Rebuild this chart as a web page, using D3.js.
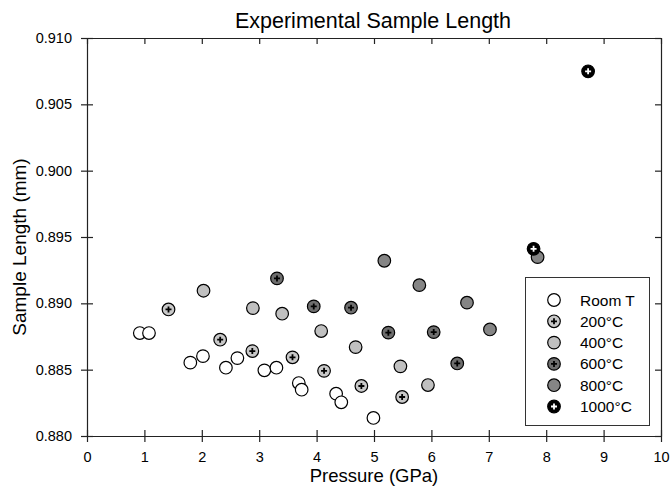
<!DOCTYPE html>
<html>
<head>
<meta charset="utf-8">
<script src="https://cdn.jsdelivr.net/npm/d3@7"></script>
<style>
  body { margin: 0; background: #fff; }
  text { font-family: "Liberation Sans", Arial, sans-serif; }
</style>
</head>
<body>
<div id="chart"></div>
<script>
// Data (pressure in GPa, sample length in mm)
var seriesNames = ["Room T", "200°C", "400°C", "600°C", "800°C", "1000°C"];

var roomX = [0.92, 1.08, 1.80, 2.02, 2.42, 2.62, 3.09, 3.30, 3.69, 3.74, 4.34, 4.43, 4.99];
var roomY = [0.88776, 0.88776, 0.88553, 0.88602, 0.88515, 0.88587, 0.88495, 0.88515, 0.88399, 0.88349, 0.88319, 0.88254, 0.88136];

var t200X = [1.42, 2.32, 2.88, 3.58, 4.13, 4.78, 5.49];
var t200Y = [0.88954, 0.88726, 0.88640, 0.88593, 0.88491, 0.88377, 0.88294];

var t400X = [2.03, 2.89, 3.40, 4.08, 4.68, 5.46, 5.94];
var t400Y = [0.89095, 0.88964, 0.88922, 0.88791, 0.88670, 0.88525, 0.88384];

var t600X = [3.31, 3.95, 4.60, 5.25, 6.04, 6.45];
var t600Y = [0.89188, 0.88977, 0.88967, 0.88779, 0.88783, 0.88547];

var t800X = [5.18, 5.79, 6.62, 7.02, 7.85];
var t800Y = [0.89321, 0.89137, 0.89005, 0.88803, 0.89348];

var t1000X = [7.78, 8.73];
var t1000Y = [0.89411, 0.90749];

var xTicks = [0, 1, 2, 3, 4, 5, 6, 7, 8, 9, 10];
var yTicks = [0.880, 0.885, 0.890, 0.895, 0.900, 0.905, 0.910];

// marker styles per series
var styles = [
  { fill: "#ffffff", cross: null },
  { fill: "#c8c8c8", cross: "#000" },
  { fill: "#c0c0c0", cross: null },
  { fill: "#6e6e6e", cross: "#000" },
  { fill: "#858585", cross: null },
  { fill: "#000000", cross: "#fff" }
];

var series = [
  [roomX, roomY], [t200X, t200Y], [t400X, t400Y],
  [t600X, t600Y], [t800X, t800Y], [t1000X, t1000Y]
];

var width = 670, height = 486;
var margin = { left: 87, right: 9, top: 38, bottom: 50 };

var svg = d3.select("#chart").append("svg")
  .attr("width", width)
  .attr("height", height);

var x = d3.scaleLinear().domain([0, 10]).range([margin.left, width - margin.right]);
var y = d3.scaleLinear().domain([0.880, 0.910]).range([height - margin.bottom, margin.top]);

// axes - ticks crossing on bottom/left, inside on top/right
var bottom = svg.append("g")
  .attr("transform", "translate(0," + y.range()[0] + ")")
  .call(d3.axisBottom(x).tickValues(xTicks).tickSize(6).tickSizeOuter(0).tickPadding(10).tickFormat(d3.format("d")));
bottom.selectAll(".tick line").attr("y1", -6);

var left = svg.append("g")
  .attr("transform", "translate(" + x.range()[0] + ",0)")
  .call(d3.axisLeft(y).tickValues(yTicks).tickSize(6).tickSizeOuter(0).tickPadding(9).tickFormat(d3.format(".3f")));
left.selectAll(".tick line").attr("x1", 6).attr("x2", -6);

svg.append("g")
  .attr("transform", "translate(0," + y.range()[1] + ")")
  .call(d3.axisBottom(x).tickValues(xTicks).tickSize(6).tickSizeOuter(0).tickFormat(""));

svg.append("g")
  .attr("transform", "translate(" + x.range()[1] + ",0)")
  .call(d3.axisLeft(y).tickValues(yTicks).tickSize(6).tickSizeOuter(0).tickFormat(""));

svg.selectAll(".domain, .tick line").attr("stroke", "#222").attr("stroke-width", 1.2);
svg.selectAll(".tick text").attr("font-size", 14.5).attr("fill", "#000")
  .attr("font-family", "Liberation Sans, Arial, sans-serif");

// markers
function drawMarker(g, cx, cy, st) {
  g.append("circle")
    .attr("cx", cx).attr("cy", cy).attr("r", 6.3)
    .attr("fill", st.fill)
    .attr("stroke", "#000")
    .attr("stroke-width", 1.2);
  if (st.cross) {
    g.append("path")
      .attr("d", "M" + (cx - 3) + "," + cy + "h6M" + cx + "," + (cy - 3) + "v6")
      .attr("stroke", st.cross)
      .attr("stroke-width", 1.8);
  }
}

var pts = svg.append("g");
series.forEach(function(s, i) {
  for (var j = 0; j < s[0].length; j++) {
    drawMarker(pts, x(s[0][j]), y(s[1][j]), styles[i]);
  }
});

// legend
var lg = svg.append("g");
lg.append("rect")
  .attr("x", 525.5).attr("y", 277.5)
  .attr("width", 124).attr("height", 148)
  .attr("fill", "#fff").attr("stroke", "#333").attr("stroke-width", 1);
seriesNames.forEach(function(name, i) {
  var ry = 300 + i * 21.3;
  drawMarker(lg, 554, ry, styles[i]);
  lg.append("text")
    .attr("x", 580).attr("y", ry + 5.5)
    .attr("font-size", 15.5)
    .text(name);
});

// titles
svg.append("text")
  .attr("x", 373).attr("y", 28)
  .attr("text-anchor", "middle")
  .attr("font-size", 21.5)
  .text("Experimental Sample Length");

svg.append("text")
  .attr("x", 374).attr("y", 482)
  .attr("text-anchor", "middle")
  .attr("font-size", 18.5)
  .text("Pressure (GPa)");

svg.append("text")
  .attr("transform", "translate(26," + ((margin.top + height - margin.bottom) / 2 + 10) + ") rotate(-90)")
  .attr("text-anchor", "middle")
  .attr("font-size", 19)
  .text("Sample Length (mm)");
</script>
</body>
</html>
